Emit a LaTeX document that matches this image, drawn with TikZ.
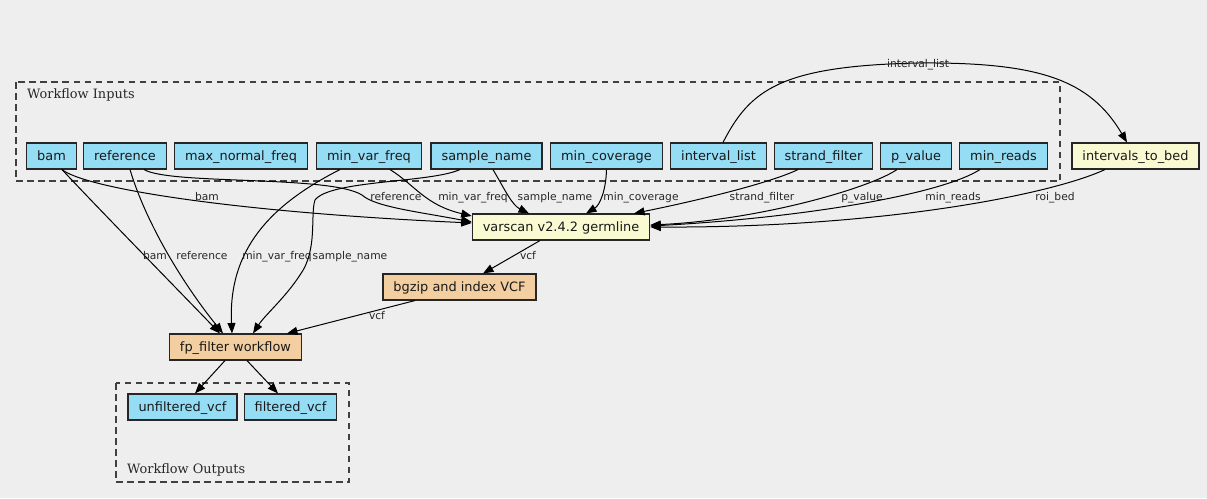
\documentclass[tikz,border=0pt]{standalone}
\usepackage{fontspec}
\setmainfont{DejaVu Serif}
\setsansfont{DejaVu Sans}
\usetikzlibrary{arrows.meta}

\definecolor{bgc}{HTML}{EEEEEE}
\definecolor{inblue}{HTML}{94DDF4}
\definecolor{toolyellow}{HTML}{FAFAD2}
\definecolor{steporange}{HTML}{F3CEA1}

\tikzset{
    box/.style={draw=black!85, line width=1.1pt, minimum height=26pt,
        inner xsep=10.5pt, inner ysep=0pt, text height=9.4pt, text depth=1.4pt,
        font=\sffamily\fontsize{12.9}{15}\selectfont, text=black!90},
    io/.style={box, fill=inblue},
    tool/.style={box, fill=toolyellow},
    stepnode/.style={box, fill=steporange},
    edge/.style={line width=1pt, -{Triangle[length=10.5pt,width=8pt]}},
    elabel/.style={anchor=base, inner sep=0pt, text=black!85,
        font=\sffamily\fontsize{10.7}{12}\selectfont},
    cluster/.style={draw=black!75, line width=1.2pt, dash pattern=on 6.5pt off 4.5pt},
    clabel/.style={anchor=base west, inner sep=0pt, text=black!85,
        font=\rmfamily\fontsize{12.9}{15}\selectfont}
}

\begin{document}
\begin{tikzpicture}[x=1pt, y=-1pt]
    \fill[bgc] (0,0) rectangle (1207,498);
    \useasboundingbox (0,0) rectangle (1207,498);

    % Clusters
    \draw[cluster] (16,82) rectangle (1060,181);
    \node[clabel] (lbl_inputs) at (27,98) {Workflow Inputs};
    \draw[cluster] (116,383) rectangle (349,482);
    \node[clabel] (lbl_outputs) at (127,473) {Workflow Outputs};

    % Inputs
    \node[io] (bam) at (51.5,156) {bam};
    \node[io] (reference) at (125,156) {reference};
    \node[io] (max_normal_freq) at (241,156) {max\_normal\_freq};
    \node[io] (min_var_freq) at (369,156) {min\_var\_freq};
    \node[io] (sample_name) at (486.5,156) {sample\_name};
    \node[io] (min_coverage) at (606.5,156) {min\_coverage};
    \node[io] (interval_list) at (718.5,156) {interval\_list};
    \node[io] (strand_filter) at (823.5,156) {strand\_filter};
    \node[io] (p_value) at (916,156) {p\_value};
    \node[io] (min_reads) at (1003.5,156) {min\_reads};

    % Steps
    \node[tool] (intervals_to_bed) at (1135.5,156) {intervals\_to\_bed};
    \node[tool] (varscan) at (561,227) {varscan v2.4.2 germline};
    \node[stepnode] (bgzip) at (459.5,287) {bgzip and index VCF};
    \node[stepnode] (fp_filter) at (235.5,347) {fp\_filter workflow};

    % Outputs
    \node[io] (unfiltered_vcf) at (182.5,407) {unfiltered\_vcf};
    \node[io] (filtered_vcf) at (290.5,407) {filtered\_vcf};

    % Edges into varscan
    \draw[edge] ([xshift=10.5pt]bam.south) .. controls (85,188) and (230,212) .. ([yshift=4pt]varscan.west)
        node[elabel] at (207,200) {bam};
    \draw[edge] ([xshift=19pt]reference.south) .. controls (170,185) and (330,175) .. (362,195)
        .. controls (375,207) and (420,212) .. ([yshift=5pt]varscan.west)
        node[elabel] at (396,200) {reference};
    \draw[edge] ([xshift=21pt]min_var_freq.south) .. controls (415,185) and (425,205) .. ([yshift=11pt]varscan.west)
        node[elabel] at (473,200) {min\_var\_freq};
    \draw[edge] ([xshift=6.5pt]sample_name.south) .. controls (505,190) and (512,205) .. ([xshift=-32pt]varscan.north)
        node[elabel] at (555,200) {sample\_name};
    \draw[edge] (min_coverage.south) .. controls (606,190) and (600,205) .. ([xshift=25pt]varscan.north)
        node[elabel] at (641,200) {min\_coverage};
    \draw[edge] ([xshift=-25.5pt]strand_filter.south) .. controls (770,183) and (700,200) .. ([xshift=73pt]varscan.north)
        node[elabel] at (762,200) {strand\_filter};
    \draw[edge] ([xshift=-19pt]p_value.south) .. controls (870,188) and (760,220) .. ([yshift=2pt]varscan.east)
        node[elabel] at (862,200) {p\_value};
    \draw[edge] ([xshift=-23.5pt]min_reads.south) .. controls (940,195) and (800,218) .. ([yshift=1pt]varscan.east)
        node[elabel] at (953,200) {min\_reads};
    \draw[edge] ([xshift=-30.5pt]intervals_to_bed.south) .. controls (1050,195) and (880,228) .. (varscan.east)
        node[elabel] at (1055,200) {roi\_bed};

    % interval_list -> intervals_to_bed
    \draw[edge] ([xshift=4.5pt]interval_list.north) .. controls (750,90) and (780,66) .. (918,63)
        .. controls (1040,62) and (1090,80) .. ([xshift=-8.5pt]intervals_to_bed.north)
        node[elabel] at (918,67) {interval\_list};

    % Chain
    \draw[edge] ([xshift=-21pt]varscan.south) -- ([xshift=23.5pt]bgzip.north)
        node[elabel] at (528,259) {vcf};
    \draw[edge] ([xshift=-44.5pt]bgzip.south) -- ([xshift=51.5pt]fp_filter.north)
        node[elabel] at (377,319) {vcf};

    % Edges into fp_filter
    \draw[edge] ([xshift=10.5pt]bam.south) .. controls (95,205) and (180,292) .. ([xshift=-15.5pt]fp_filter.north)
        node[elabel] at (155,259) {bam};
    \draw[edge] ([xshift=5pt]reference.south) .. controls (145,220) and (180,280) .. ([xshift=-12.5pt]fp_filter.north)
        node[elabel] at (202,259) {reference};
    \draw[edge] ([xshift=-29pt]min_var_freq.south) .. controls (270,205) and (228,250) .. ([xshift=-3.5pt]fp_filter.north)
        node[elabel] at (277,259) {min\_var\_freq};
    \draw[edge] ([xshift=-26.5pt]sample_name.south) .. controls (430,183) and (330,180) .. (315,200)
        .. controls (310,215) and (318,250) .. (300,275)
        .. controls (285,298) and (265,315) .. ([xshift=17.5pt]fp_filter.north)
        node[elabel] at (350,259) {sample\_name};

    % Outputs
    \draw[edge] ([xshift=-10.5pt]fp_filter.south) -- ([xshift=12.5pt]unfiltered_vcf.north);
    \draw[edge] ([xshift=11.5pt]fp_filter.south) -- ([xshift=-12.5pt]filtered_vcf.north);
\end{tikzpicture}
\end{document}
